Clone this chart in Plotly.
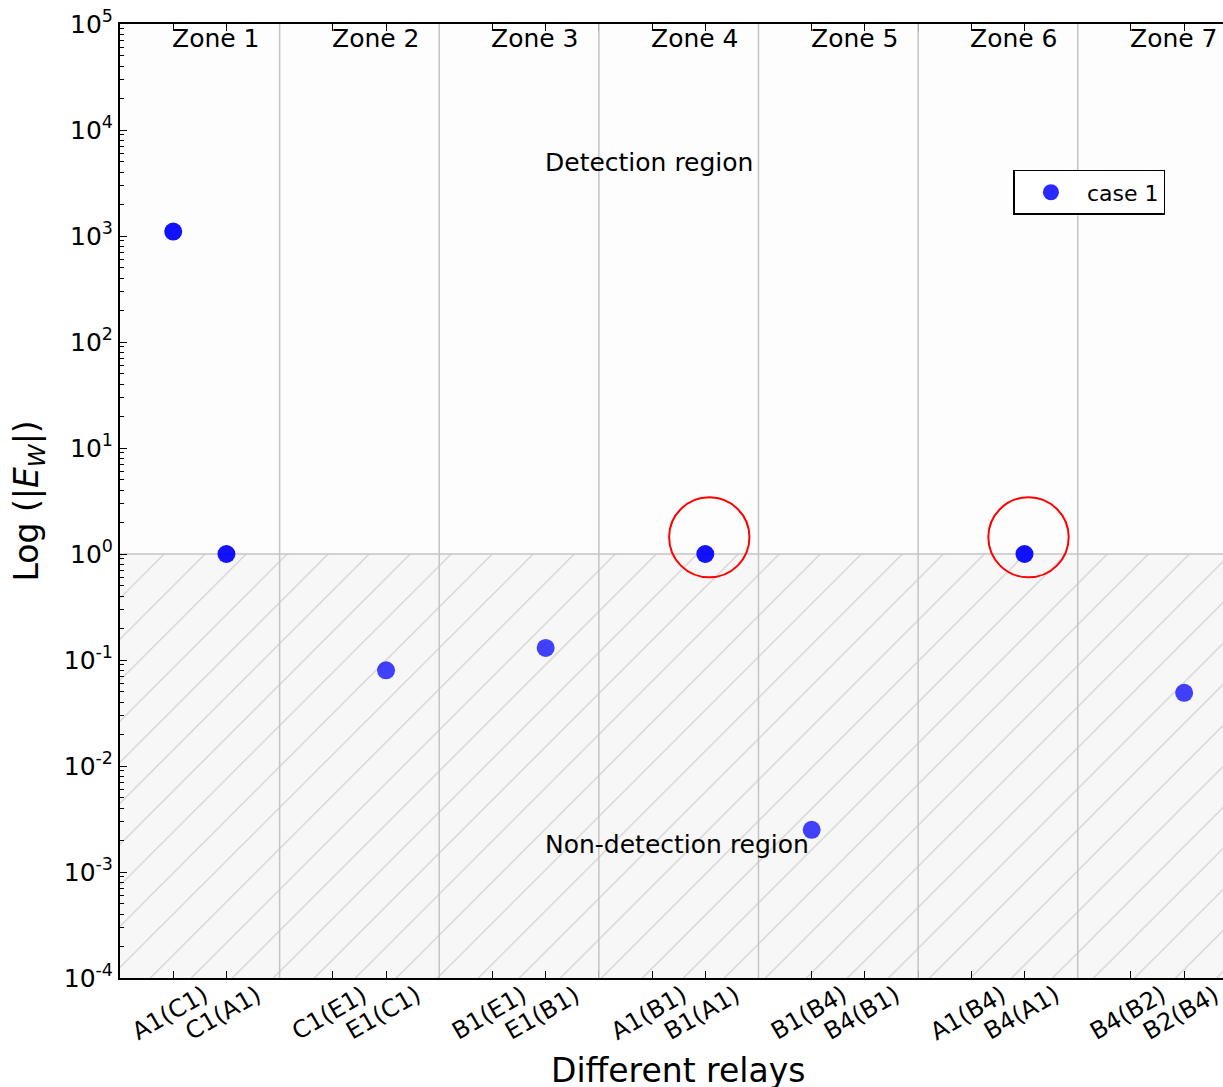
import plotly.graph_objects as go

# Relay pairs (two per protection zone) and the measured |E_W| for case 1
relays = ["A1(C1)", "C1(A1)", "C1(E1)", "E1(C1)", "B1(E1)", "E1(B1)",
          "A1(B1)", "B1(A1)", "B1(B4)", "B4(B1)", "A1(B4)", "B4(A1)",
          "B4(B2)", "B2(B4)"]
case1 = [1100, 1.0, None, 0.08, None, 0.13,
         None, 1.0, 0.0025, None, None, 1.0,
         None, 0.049]
zones = ["Zone 1", "Zone 2", "Zone 3", "Zone 4", "Zone 5", "Zone 6", "Zone 7"]
threshold = 1.0
highlighted = ["B1(A1)", "B4(A1)"]

FONT = "DejaVu Sans"
X_MAX = 20.73
Y_MIN, Y_MAX = 1e-4, 1e5

# each zone spans three units; its two relays sit at offsets 1 and 2
xpos = [3 * (i // 2) + 1 + (i % 2) for i in range(len(relays))]
pts = [(x, v, r) for x, v, r in zip(xpos, case1, relays) if v is not None]
strong = {"A1(C1)", "C1(A1)", "B1(A1)", "B4(A1)"}

fig = go.Figure()

# hatched non-detection band below the threshold
fig.add_trace(go.Scatter(
    x=[0, X_MAX + 1, X_MAX + 1, 0, 0],
    y=[Y_MIN, Y_MIN, threshold, threshold, Y_MIN],
    mode="lines", line=dict(width=0), fill="toself",
    fillcolor="#f7f7f7",
    fillpattern=dict(shape="/", fgcolor="#a0a0a0", bgcolor="#f7f7f7",
                     size=29, solidity=0.04),
    hoverinfo="skip", showlegend=False))

# threshold line
fig.add_trace(go.Scatter(
    x=[0, X_MAX + 1], y=[threshold, threshold], mode="lines",
    line=dict(color="#c4c4c4", width=1.5),
    hoverinfo="skip", showlegend=False))

fig.add_trace(go.Scatter(
    x=[p[0] for p in pts], y=[p[1] for p in pts], mode="markers",
    name="case 1",
    marker=dict(color="blue", size=18, line=dict(width=0),
                opacity=[0.93 if p[2] in strong else 0.74 for p in pts]),
))

shapes = []
# zone separators
for k in range(1, len(zones)):
    shapes.append(dict(type="line", xref="x", yref="paper", x0=3 * k, x1=3 * k,
                       y0=0, y1=1, line=dict(color="#c4c4c4", width=1.5),
                       layer="above"))
# red rings around the highlighted relays (slightly up and right of the point)
for name in highlighted:
    i = relays.index(name)
    xc, yc = xpos[i], case1[i]
    shapes.append(dict(type="circle", xref="x", yref="y",
                       x0=xc - 0.68, x1=xc + 0.83,
                       y0=yc * 10 ** -0.22, y1=yc * 10 ** 0.535,
                       line=dict(color="red", width=2), layer="above"))

annotations = []
for k, z in enumerate(zones):
    annotations.append(dict(text=z, x=3 * k + 1, xref="x", y=1, yref="paper",
                            xanchor="left", yanchor="top", xshift=-3, yshift=2,
                            showarrow=False, font=dict(size=25, color="black")))

# rotated relay labels centred under their ticks
for x, r in zip(xpos, relays):
    annotations.append(dict(text=r, x=x, xref="x", y=-0.037, yref="paper",
                            xanchor="center", yanchor="middle", textangle=-30,
                            xshift=-3, showarrow=False,
                            font=dict(size=24, color="black")))

annotations += [
    dict(text="Detection region", x=8, xref="x", y=3.69, yref="y",
         xanchor="left", yanchor="middle", xshift=-3, showarrow=False,
         font=dict(size=25, color="black")),
    dict(text="Non-detection region", x=8, xref="x", y=-2.74, yref="y",
         xanchor="left", yanchor="middle", xshift=-3, showarrow=False,
         font=dict(size=25, color="black")),
    dict(text="Different relays", x=0.506, xref="paper", y=-0.097, yref="paper",
         xanchor="center", yanchor="middle", showarrow=False,
         font=dict(size=33, color="black")),
    dict(text="Log (|<i>E<sub>W</sub></i>|)", x=-0.083, xref="paper", y=0.50,
         yref="paper", xanchor="center", yanchor="middle", textangle=-90,
         showarrow=False, font=dict(size=33, color="black")),
]

xticks = list(range(1, 21))
ytick_exp = list(range(-4, 6))

fig.update_layout(
    width=1223, height=1087,
    margin=dict(l=120, r=0, t=24, b=109),
    paper_bgcolor="white", plot_bgcolor="#fdfdfd",
    font=dict(family=FONT, color="black"),
    shapes=shapes, annotations=annotations,
    legend=dict(x=0.81, y=0.847, xanchor="left", yanchor="top",
                bgcolor="white", bordercolor="black", borderwidth=1.5,
                font=dict(size=22), itemwidth=62),
    xaxis=dict(range=[0, X_MAX], tickvals=xticks, showticklabels=False,
               ticks="inside", ticklen=7, tickcolor="black",
               showgrid=False, zeroline=False,
               showline=True, linecolor="black", linewidth=2,
               mirror="allticks"),
    yaxis=dict(type="log", range=[-4, 5],
               tickvals=[10 ** e for e in ytick_exp],
               ticktext=[f"10<sup>{e}</sup>" for e in ytick_exp],
               tickfont=dict(size=25),
               ticks="inside", ticklen=7, tickcolor="black",
               minor=dict(ticks="inside", ticklen=4, tickcolor="black",
                          dtick="D1", showgrid=False),
               showgrid=False, zeroline=False,
               showline=True, linecolor="black", linewidth=2),
)

fig.write_html("out.html")
